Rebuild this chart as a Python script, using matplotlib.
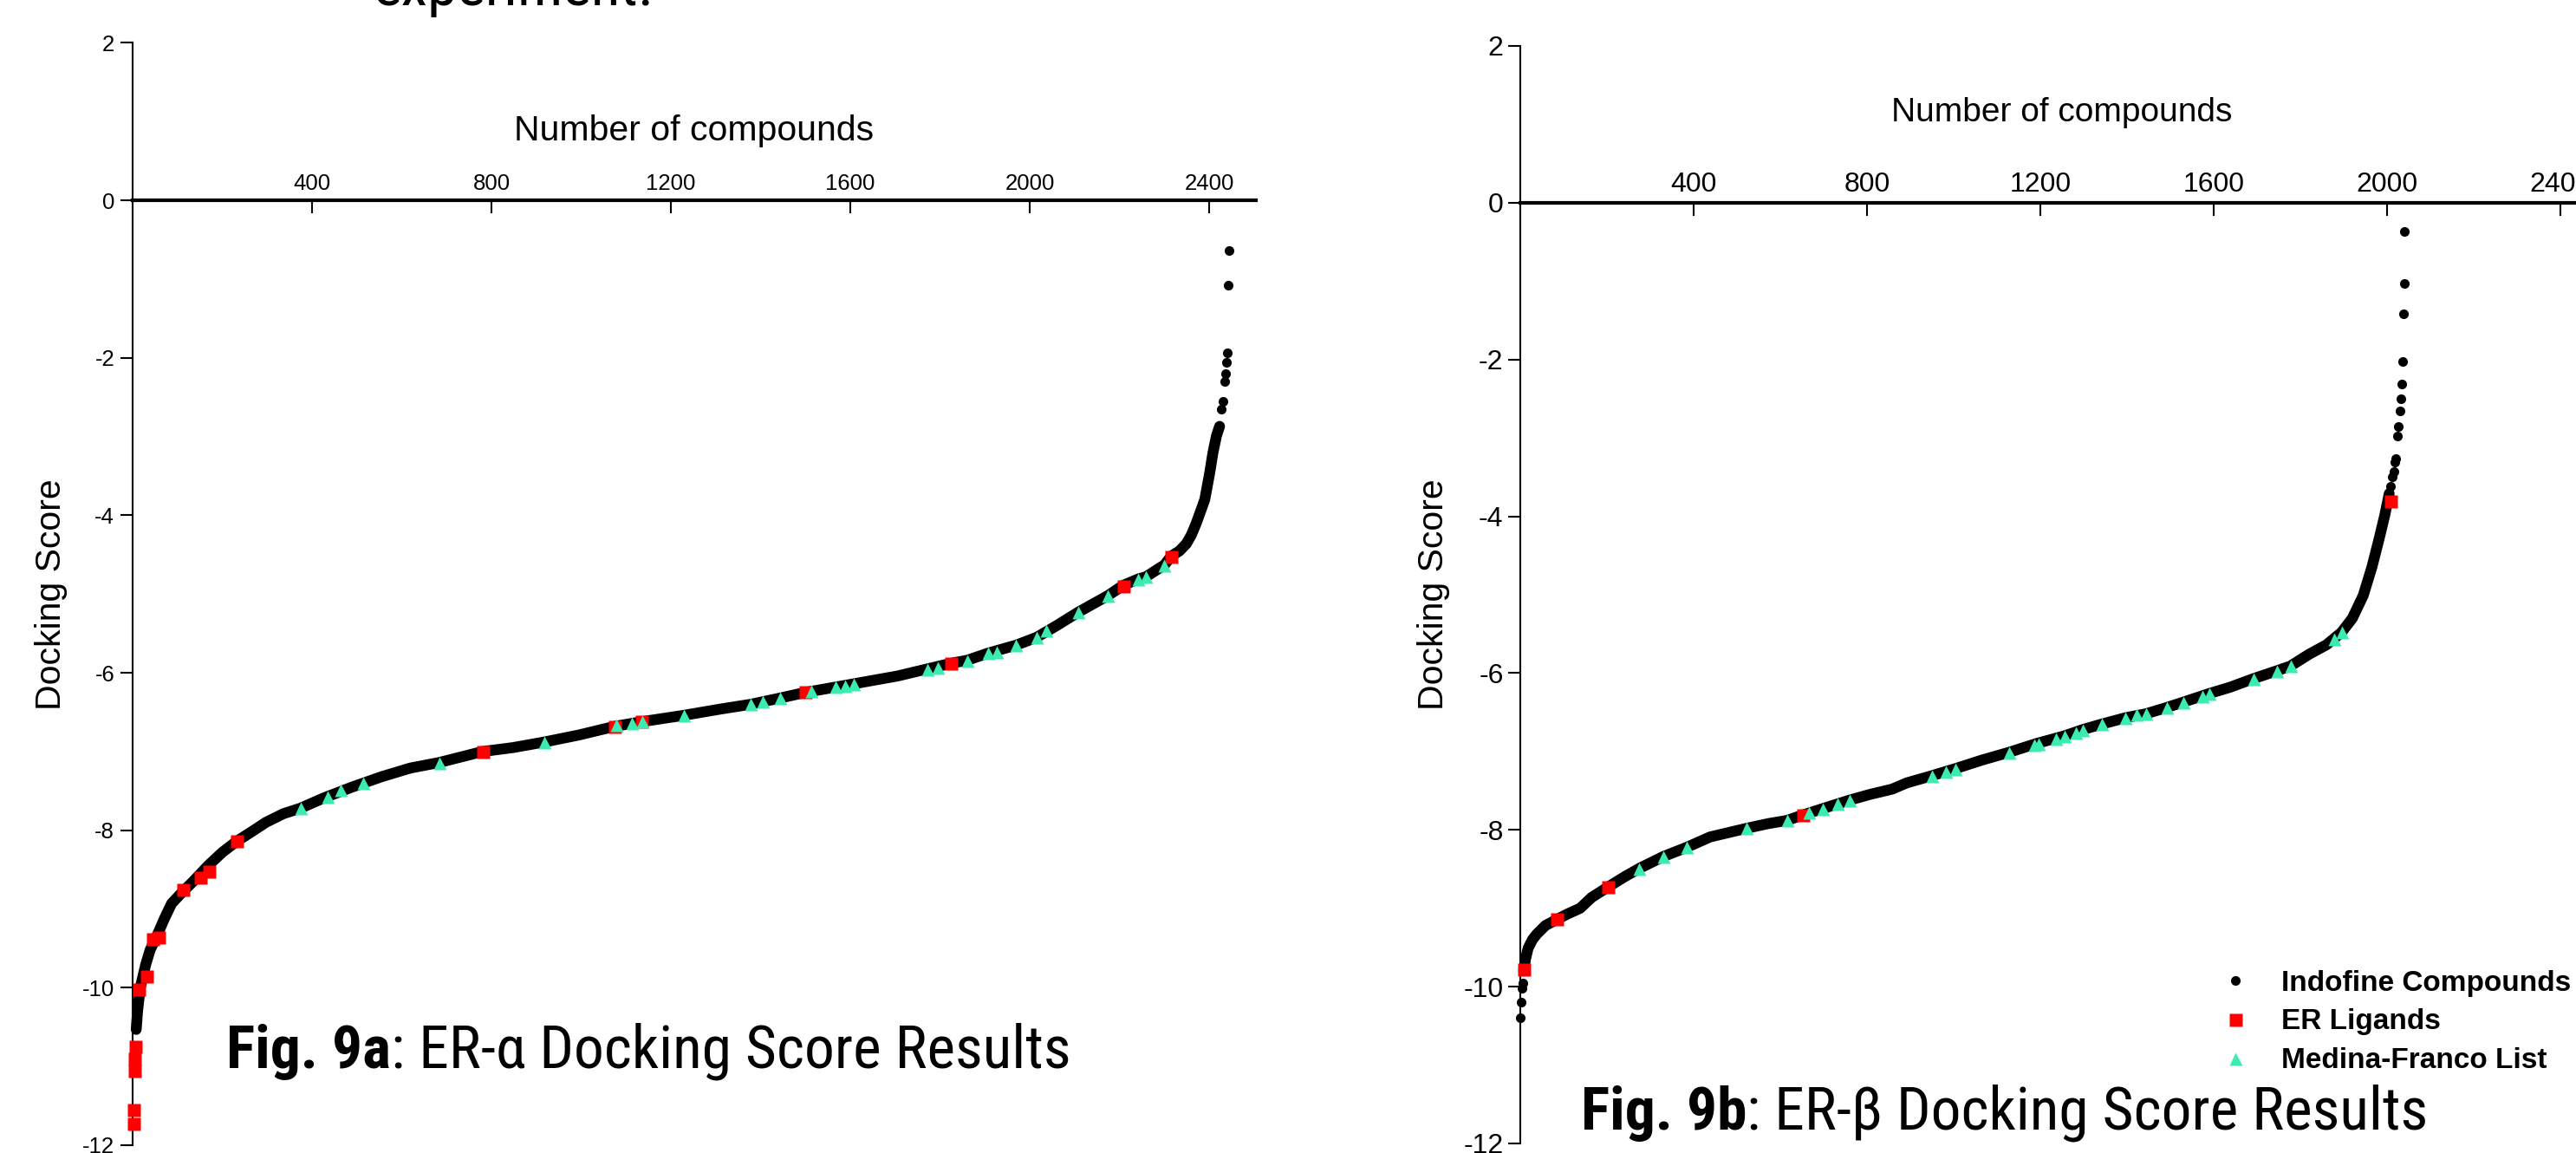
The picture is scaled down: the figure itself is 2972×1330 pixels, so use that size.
import matplotlib
matplotlib.use('Agg')
import matplotlib.pyplot as plt
from matplotlib import font_manager

W, H = 2972, 1330

# ---- ER-alpha panel (9a) ----
a_rank = [8, 11, 14, 17, 29, 39, 55, 71, 87, 110, 135, 168, 200, 232, 265, 297, 336, 374, 426, 490,
          555, 619, 683, 780, 848, 917, 995, 1075, 1136, 1229, 1311, 1378, 1444, 1499, 1588, 1706,
          1772, 1824, 1861, 1907, 1969, 2015, 2060, 2108, 2174, 2208, 2241, 2259, 2300, 2315, 2334,
          2349, 2360, 2371, 2390, 2401, 2408, 2416, 2423]
a_score = [-10.53, -10.3, -10.15, -10.0, -9.71, -9.52, -9.33, -9.12, -8.93, -8.79, -8.65, -8.45, -8.28,
           -8.14, -8.02, -7.90, -7.79, -7.72, -7.59, -7.45, -7.32, -7.21, -7.14, -7.00, -6.95, -6.88,
           -6.79, -6.68, -6.62, -6.54, -6.46, -6.40, -6.32, -6.25, -6.16, -6.04, -5.95, -5.88, -5.84,
           -5.75, -5.65, -5.55, -5.40, -5.23, -5.02, -4.89, -4.81, -4.78, -4.63, -4.52, -4.45, -4.36,
           -4.25, -4.10, -3.80, -3.46, -3.21, -2.99, -2.87]
a_tail_rank = [2427, 2430, 2434, 2436, 2438, 2440, 2442, 2444]
a_tail_score = [-2.65, -2.55, -2.30, -2.20, -2.06, -1.94, -1.08, -0.64]

a_er_rank = [1, 2, 3, 4, 5, 13, 30, 45, 58, 113, 150, 170, 232, 780, 1075, 1134, 1499, 1824, 2208, 2315]
a_er_score = [-11.72, -11.55, -11.05, -10.9, -10.75, -10.02, -9.85, -9.38, -9.36, -8.75, -8.6, -8.52,
              -8.14, -7.0, -6.68, -6.62, -6.24, -5.88, -4.90, -4.52]

a_mf_rank = [374, 435, 463, 513, 683, 917, 1078, 1112, 1136, 1229, 1378, 1404, 1444, 1513, 1567, 1588,
             1607, 1772, 1794, 1861, 1907, 1927, 1969, 2015, 2036, 2108, 2174, 2241, 2259, 2300]
a_mf_score = [-7.72, -7.57, -7.49, -7.40, -7.14, -6.88, -6.66, -6.64, -6.62, -6.54, -6.40, -6.36, -6.32,
              -6.23, -6.18, -6.16, -6.14, -5.95, -5.93, -5.84, -5.75, -5.73, -5.65, -5.55, -5.46, -5.23,
              -5.02, -4.81, -4.78, -4.63]

# ---- ER-beta panel (9b) ----
b_rank = [8, 12, 18, 28, 38, 58, 85, 110, 138, 165, 202, 240, 275, 330, 385, 438, 522, 572, 615, 652,
          697, 760, 805, 858, 892, 949, 1003, 1065, 1128, 1190, 1256, 1298, 1342, 1396, 1443, 1491,
          1530, 1590, 1638, 1692, 1746, 1777, 1820, 1860, 1895, 1920, 1945, 1965, 1982, 1995, 2005]
b_score = [-9.80, -9.65, -9.51, -9.40, -9.33, -9.22, -9.14, -9.07, -9.00, -8.86, -8.73, -8.60, -8.49,
           -8.34, -8.22, -8.09, -7.98, -7.92, -7.88, -7.81, -7.73, -7.62, -7.55, -7.48, -7.40, -7.31,
           -7.22, -7.11, -7.01, -6.90, -6.80, -6.72, -6.65, -6.57, -6.52, -6.44, -6.37, -6.26, -6.18,
           -6.07, -5.97, -5.91, -5.76, -5.64, -5.48, -5.30, -5.01, -4.65, -4.28, -3.98, -3.71]
b_tail_rank = [1, 3, 5, 6, 2007, 2012, 2015, 2018, 2020, 2024, 2026, 2030, 2032, 2034, 2036, 2038, 2039, 2040]
b_tail_score = [-10.40, -10.20, -10.02, -9.95, -3.62, -3.50, -3.43, -3.31, -3.26, -2.98, -2.86, -2.66,
                -2.50, -2.31, -2.03, -1.42, -1.03, -0.37]

b_er_rank = [8, 85, 202, 652, 2008]
b_er_score = [-9.78, -9.14, -8.73, -7.81, -3.81]

b_mf_rank = [275, 330, 385, 522, 615, 666, 697, 732, 760, 949, 982, 1003, 1128, 1185, 1195, 1235, 1256,
             1281, 1298, 1342, 1396, 1422, 1443, 1491, 1530, 1573, 1590, 1692, 1746, 1777, 1878, 1895]
b_mf_score = [-8.49, -8.34, -8.22, -7.98, -7.88, -7.78, -7.73, -7.67, -7.62, -7.31, -7.26, -7.22, -7.01,
              -6.91, -6.90, -6.84, -6.80, -6.76, -6.72, -6.65, -6.57, -6.53, -6.52, -6.44, -6.37, -6.29,
              -6.26, -6.07, -5.97, -5.91, -5.56, -5.48]

x_ticks = [400, 800, 1200, 1600, 2000, 2400]
y_ticks = [2, 0, -2, -4, -6, -8, -10, -12]

plt.rcParams['font.family'] = ['Liberation Sans', 'DejaVu Sans']
plt.rcParams['axes.unicode_minus'] = False

# the captions are set in a narrow face; use one if the machine has it
names = set(f.name for f in font_manager.fontManager.ttflist)
cap_font, cap_size = 'Liberation Sans', 43
for name, size in [('Liberation Sans Narrow', 52), ('Arial Narrow', 52),
                   ('Roboto Condensed', 50), ('Open Sans Condensed', 50)]:
    if name in names:
        cap_font, cap_size = name, size
        break

GREEN = '#3CEBB0'

fig = plt.figure(figsize=(W / 100, H / 100), dpi=100)
ax1 = fig.add_axes([153 / W, 1 - 1321 / H, (1449 - 153) / W, (1321 - 49.5) / H])
ax2 = fig.add_axes([1754 / W, 1 - 1319 / H, 1250 / W, (1319 - 53) / H])


def setup(ax, xmax, tsize, xpad, ypad, lpad):
    ax.set_xlim(0, xmax)
    ax.set_ylim(-12, 2)
    ax.spines['right'].set_visible(False)
    ax.spines['bottom'].set_visible(False)
    ax.spines['top'].set_position(('data', 0))
    ax.spines['top'].set_linewidth(3)
    ax.spines['left'].set_linewidth(1.5)
    ax.xaxis.set_ticks_position('top')
    ax.xaxis.set_label_position('top')
    ax.set_xticks(x_ticks)
    ax.set_yticks(y_ticks)
    ax.tick_params(axis='x', direction='in', length=11, width=1.5, pad=xpad, labelsize=tsize)
    ax.tick_params(axis='y', direction='out', length=10, width=1.5, pad=ypad, labelsize=tsize)
    ax.set_ylabel('Docking Score', fontsize=29.5, labelpad=lpad)
    ax.patch.set_visible(False)


setup(ax1, 2504, 18.5, 5.5, 5, 12)
setup(ax2, 2500, 23, 4, 4, 11)
ax1.set_xlabel('Number of compounds', fontsize=29.5, labelpad=27)
ax2.set_xlabel('Number of compounds', fontsize=28, labelpad=42)


def draw(ax, r, s, tr, ts, er, es, mr, ms):
    ax.plot(r, s, '-', color='black', lw=9, solid_capstyle='round',
            solid_joinstyle='round', clip_on=False, zorder=2)
    dots, = ax.plot(tr, ts, 'o', color='black', ms=8, mec='none', clip_on=False,
                    zorder=2, label='Indofine Compounds')
    sq, = ax.plot(er, es, 's', color='red', ms=10.8, mec='none', clip_on=False,
                  zorder=3, label='ER Ligands')
    tri, = ax.plot(mr, ms, '^', color=GREEN, ms=10.8, mec='none', clip_on=False,
                   zorder=4, label='Medina-Franco List')
    return [dots, sq, tri]


draw(ax1, a_rank, a_score, a_tail_rank, a_tail_score, a_er_rank, a_er_score, a_mf_rank, a_mf_score)
handles = draw(ax2, b_rank, b_score, b_tail_rank, b_tail_score, b_er_rank, b_er_score, b_mf_rank, b_mf_score)

ax2.legend(handles=handles, loc='center left', bbox_to_anchor=(2562 / W, 1 - 1179 / H),
           bbox_transform=fig.transFigure, frameon=False, borderpad=0, borderaxespad=0,
           handlelength=1.0, handletextpad=1.1, labelspacing=0.42, numpoints=1,
           prop={'family': 'Liberation Sans', 'weight': 'bold', 'size': 24})

# captions: bold figure number followed by regular text
fam = [cap_font, 'DejaVu Sans']
for ax, x0, base, num, rest in [(ax1, 261, 1232, 'Fig. 9a', ': ER-\u03b1 Docking Score Results'),
                                (ax2, 1824, 1303, 'Fig. 9b', ': ER-\u03b2 Docking Score Results')]:
    t = fig.text(x0 / W, 1 - base / H, num, fontsize=cap_size, fontweight='bold',
                 family=fam, va='baseline', ha='left')
    ax.annotate(rest, xy=(1, 0), xycoords=t, va='bottom', ha='left',
                fontsize=cap_size, family=fam)

# tail of a sentence above the figure, cut by the top edge
fig.text(431 / W, 1 - 6 / H, 'experiment.', fontsize=cap_size, family=fam,
         va='baseline', ha='left')

fig.savefig('out.png', dpi=100)
